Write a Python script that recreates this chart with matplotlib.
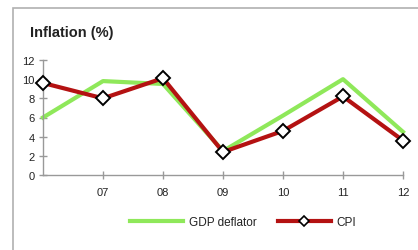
import matplotlib
matplotlib.use("Agg")
import matplotlib.pyplot as plt
from matplotlib.patches import Rectangle
from matplotlib.lines import Line2D

years = [2006, 2007, 2008, 2009, 2010, 2011, 2012]
tick_years = [2007, 2008, 2009, 2010, 2011, 2012]
tick_labels = ["07", "08", "09", "10", "11", "12"]
gdp_deflator = [6.0, 9.8, 9.5, 2.5, 6.2, 10.0, 4.5]
cpi = [9.6, 8.0, 10.1, 2.4, 4.6, 8.2, 3.6]

plt.rcParams["font.family"] = ["Liberation Sans", "DejaVu Sans"]

fig = plt.figure(figsize=(4.18, 2.51), dpi=100)
fig.patches.append(Rectangle((13 / 418, -0.1), 1.0, 1.1 - 9 / 251, transform=fig.transFigure,
                             fill=False, edgecolor="#b0b0b0", linewidth=1.2))
ax = fig.add_axes([43 / 418, 75 / 251, 360 / 418, 115 / 251])

green = "#8fe85a"
red = "#b41212"
ax.plot(years, gdp_deflator, color=green, linewidth=3.0, clip_on=False)
ax.plot(years, cpi, color=red, linewidth=3.0, marker="D", markersize=7,
        markerfacecolor="white", markeredgecolor="black", markeredgewidth=1.4,
        clip_on=False, zorder=3)

ax.set_xlim(2006, 2012)
ax.set_ylim(0, 12)
ax.set_yticks(range(0, 13, 2))
ax.set_xticks(tick_years)
ax.set_xticklabels(tick_labels)
for s in ["top", "right"]:
    ax.spines[s].set_visible(False)
for s in ["left", "bottom"]:
    ax.spines[s].set_color("#999999")
    ax.spines[s].set_linewidth(1.0)
ax.tick_params(direction="inout", length=6, width=1, color="#999999",
               labelsize=8, labelcolor="#222222", pad=3)
ax.tick_params(axis="x", pad=6)

fig.text(30 / 418, 1 - 33 / 251, "Inflation (%)", fontsize=10.5, fontweight="bold",
         color="#222222", va="center")

handles = [Line2D([], [], color=green, linewidth=3),
           Line2D([], [], color=red, linewidth=3, marker="D", markersize=5,
                  markerfacecolor="white", markeredgecolor="black", markeredgewidth=1.2)]
fig.legend(handles, ["GDP deflator", "CPI"], loc="center", ncol=2,
           bbox_to_anchor=(243 / 418, 1 - 223 / 251), frameon=False,
           fontsize=8.5, handlelength=4.5, columnspacing=1.8, handletextpad=0.5,
           labelcolor="#222222")

fig.savefig("out.png", dpi=100)
